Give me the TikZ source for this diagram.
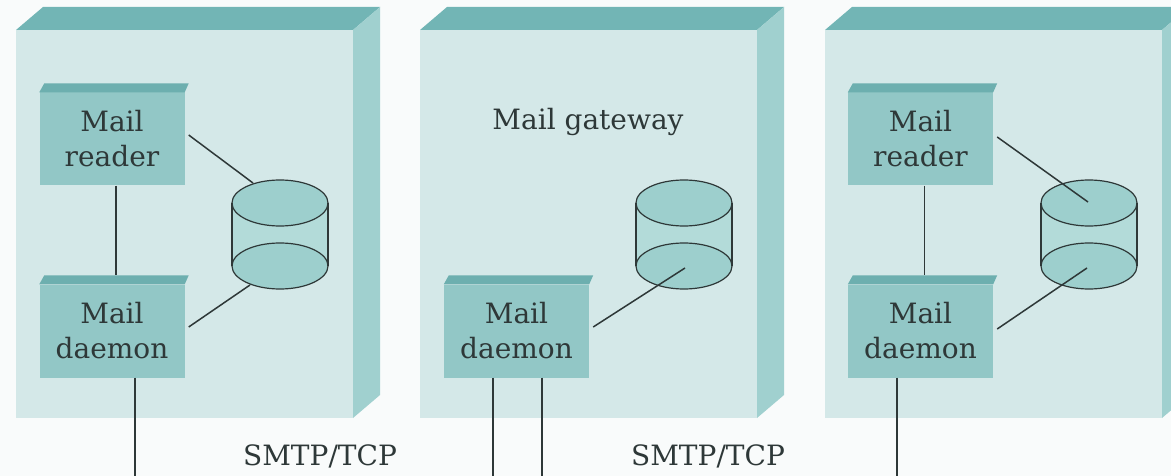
\documentclass[tikz,border=0pt]{standalone}
\usepackage{fontspec}
\setmainfont{DejaVu Serif}
\usetikzlibrary{calc}
\definecolor{bg}{HTML}{F9FBFB}
\definecolor{facefront}{HTML}{D4E8E8}
\definecolor{facetop}{HTML}{72B5B5}
\definecolor{faceside}{HTML}{A0D0CF}
\definecolor{boxfront}{HTML}{92C7C6}
\definecolor{boxtop}{HTML}{6DAFAF}
\definecolor{cylfill}{HTML}{B3DBD9}
\definecolor{cyllid}{HTML}{9DCFCD}
\definecolor{ink}{HTML}{2E3838}
\tikzset{
  comp/.style={rectangle, fill=boxfront, minimum width=145pt, minimum height=93pt,
    inner sep=0pt, align=center, font=\fontsize{28}{35}\selectfont, text=ink},
  wire/.style={draw=ink, line width=1.5pt},
  lbl/.style={font=\fontsize{28}{35}\selectfont, text=ink, inner sep=0pt, anchor=base},
}
\newcommand\drawbigbox[1]{%
  \fill[facefront] (#1,30) rectangle ++(337,388);
  \fill[facetop] (#1,30) -- ++(27,-23) -- ++(337,0) -- ++(-27,23) -- cycle;
  \fill[faceside] (#1+337,30) -- ++(27,-23) -- ++(0,388) -- ++(-27,23) -- cycle;
}
\newcommand\drawtop[1]{%
  \fill[boxtop] (#1.north west) -- ++(5,-9) -- ($(#1.north east)+(4,-9)$) -- (#1.north east) -- cycle;
}
% #1 = center x, #2 = name prefix
\newcommand\drawcyl[2]{%
  \coordinate (#2t) at (#1,203);
  \coordinate (#2b) at (#1,266);
  \fill[cylfill] (#1-48,203) rectangle (#1+48,266);
  \filldraw[fill=cyllid, draw=ink, line width=1.2pt] (#2b) ellipse [x radius=48pt, y radius=23pt];
  \filldraw[fill=cyllid, draw=ink, line width=1.2pt] (#2t) ellipse [x radius=48pt, y radius=23pt];
  \draw[ink, line width=1.2pt] (#1-48,203) -- (#1-48,266) (#1+48,203) -- (#1+48,266);
}
\begin{document}
\begin{tikzpicture}[x=1pt,y=-1pt]
\useasboundingbox (0,0) rectangle (1171,476);
\fill[bg] (0,0) rectangle (1171,476);

% big boxes
\drawbigbox{16}
\drawbigbox{420}
\drawbigbox{825}

% cylinders
\drawcyl{280}{cA}
\drawcyl{684}{cB}
\drawcyl{1089}{cC}

% components
\node[comp] (reader1) at (112,139) {Mail\\reader};
\node[comp] (daemon1) at (112,331) {Mail\\daemon};
\node[comp] (daemon2) at (516.5,331) {Mail\\daemon};
\node[comp] (reader3) at (920.5,139) {Mail\\reader};
\node[comp] (daemon3) at (920.5,331) {Mail\\daemon};
\drawtop{reader1}
\drawtop{daemon1}
\drawtop{daemon2}
\drawtop{reader3}
\drawtop{daemon3}

\node[lbl] (gw) at (588,130) {Mail gateway};
\node[lbl] (smtp1) at (320,465) {SMTP/TCP};
\node[lbl] (smtp2) at (708,465) {SMTP/TCP};

% connection points on cylinders
\coordinate (cAr) at ($(cAt)+(-27,-20)$);
\coordinate (cAd) at ($(cAb)+(-30,19)$);
\coordinate (cBd) at ($(cBb)+(1,2)$);
\coordinate (cCr) at ($(cCt)+(-1,-1)$);
\coordinate (cCd) at ($(cCb)+(-2,2)$);

% bottom ends
\coordinate (e1) at (135,476);
\coordinate (e2a) at (493,476);
\coordinate (e2b) at (542,476);
\coordinate (e3) at (897,476);

% connectors box 1
\draw[wire] ([xshift=4pt]reader1.south) -- ([xshift=4pt,yshift=9pt]daemon1.north);
\draw[wire] ([xshift=4pt,yshift=4pt]reader1.east) -- (cAr);
\draw[wire] ([xshift=4pt,yshift=4pt]daemon1.east) -- (cAd);
\draw[wire] (daemon1.south -| e1) -- (e1);

% connectors box 2
\draw[wire] ([xshift=4pt,yshift=4pt]daemon2.east) -- (cBd);
\draw[wire] (daemon2.south -| e2a) -- (e2a);
\draw[wire] (daemon2.south -| e2b) -- (e2b);

% connectors box 3
\draw[wire] ([xshift=4pt]reader3.south) -- ([xshift=4pt,yshift=9pt]daemon3.north);
\draw[wire] ([xshift=4pt,yshift=2pt]reader3.east) -- (cCr);
\draw[wire] ([xshift=4pt,yshift=2pt]daemon3.east) -- (cCd);
\draw[wire] (daemon3.south -| e3) -- (e3);
\end{tikzpicture}
\end{document}
